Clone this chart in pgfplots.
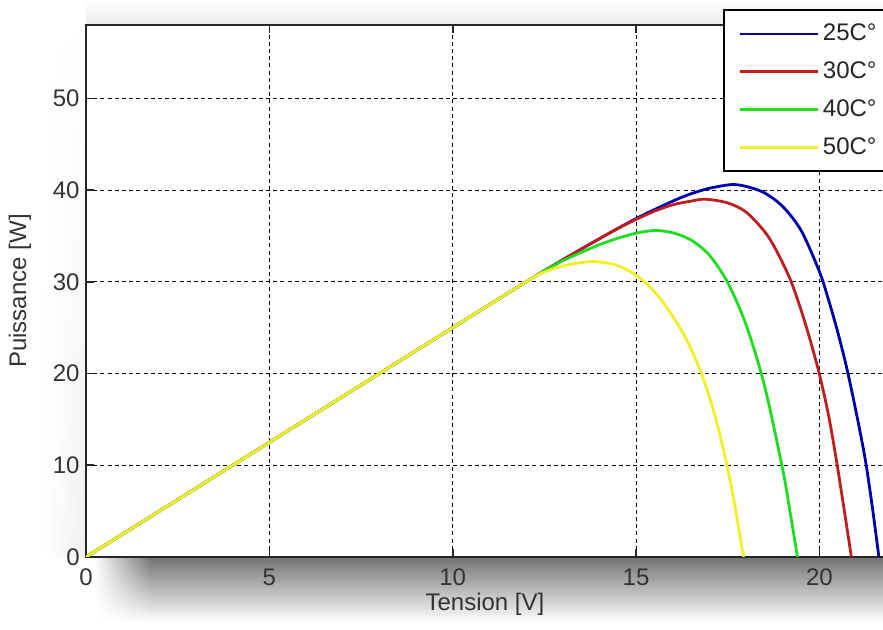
\documentclass[border=0pt]{standalone}
\usepackage{fontspec}
\setmainfont{Liberation Sans}
\usepackage{pgfplots}
\pgfplotsset{compat=1.18}
\usetikzlibrary{fadings}
\tikzfading[name=fadeL, left color=transparent!100, right color=transparent!0]
\tikzfading[name=fadeU, bottom color=transparent!0, top color=transparent!100]

\definecolor{cBlue}{RGB}{0,0,170}
\definecolor{cRed}{RGB}{190,30,30}
\definecolor{cGreen}{RGB}{30,220,30}
\definecolor{cYellow}{RGB}{240,240,40}

\begin{document}
\begin{tikzpicture}
\path[use as bounding box] (0pt,0pt) rectangle (441.5pt,315pt);
\clip (0pt,0pt) rectangle (441.5pt,315pt);
% shadows
\shade[top color=black!55, middle color=black!18, bottom color=white] (75pt,4pt) rectangle (441.5pt,36.5pt);
\shade[top color=black!55, middle color=black!18, bottom color=white, path fading=fadeL] (47pt,4pt) rectangle (75.1pt,36.5pt);
\shade[bottom color=black!8, top color=white] (43pt,302.5pt) rectangle (441.5pt,315pt);
\shade[right color=black!6, left color=white, path fading=fadeU] (22pt,36.5pt) rectangle (43pt,310pt);

\begin{axis}[
  at={(43pt,36.5pt)}, anchor=south west,
  scale only axis, width=403.4pt, height=266pt,
  xmin=0, xmax=22, ymin=0, ymax=58,
  xtick={0,5,10,15,20}, ytick={0,10,20,30,40,50},
  tick pos=both, tick align=inside, major tick length=4pt,
  grid=major,
  major grid style={black, line width=0.5pt, dash pattern=on 2pt off 1.6pt},
  axis line style={black!85, line width=0.8pt},
  every tick/.style={black!85, line width=0.8pt},
  tick label style={font=\fontsize{12}{14}\selectfont, text=black!80},
  /pgf/number format/assume math mode=true,
  xticklabel style={anchor=base, yshift=-14.5pt},
  yticklabel style={anchor=east, inner sep=0pt, xshift=-3pt},
  xlabel={Tension [V]}, ylabel={Puissance [W]},
  label style={font=\fontsize{12}{14}\selectfont, text=black!80},
  xlabel style={at={(axis description cs:0.4945,-0.088)}, anchor=center},
  ylabel style={at={(axis description cs:-0.0818,0.5)}, anchor=center},
  legend style={at={(axis cs:17.38,59.7)}, anchor=north west, draw=black, line width=0.8pt,
    fill=white, font=\fontsize{12}{14}\selectfont, text=black!85,
    inner xsep=7pt, inner ysep=5pt, row sep=5pt, nodes={inner sep=2pt}},
  legend cell align=left,
  legend image code/.code={\draw[#1, line width=1.4pt] (0pt,0pt) -- (39pt,0pt);},
]
\addplot[cBlue, line width=1.4pt, smooth, tension=0.5] coordinates {
(0,0) (4,10) (8,20) (10,25) (12,30) (13,32.4) (14,34.7) (15,36.9) (16,38.8) (16.5,39.6)
(17,40.2) (17.6,40.6) (18,40.4) (18.5,39.7) (19,38.2) (19.5,35.6) (20,31.1) (20.25,28.0)
(20.5,24.5) (20.75,20.5) (21,15.8) (21.25,10.6) (21.45,5.2) (21.62,0)
};
\addlegendentry{25C°}
\addplot[cRed, line width=1.4pt, smooth, tension=0.5] coordinates {
(0,0) (4,10) (8,20) (10,25) (12,30) (13,32.4) (14,34.7) (14.5,35.8) (15,36.8) (15.5,37.7)
(16,38.4) (16.5,38.8) (16.9,39.0) (17.5,38.6) (18,37.6) (18.5,35.5) (18.8,33.6) (19.2,30.3)
(19.5,26.9) (19.75,23.6) (20.0,19.9) (20.25,15.4) (20.46,10.6) (20.68,5.0) (20.87,0)
};
\addlegendentry{30C°}
\addplot[cGreen, line width=1.4pt, smooth, tension=0.5] coordinates {
(0,0) (4,10) (8,20) (10,25) (12,30) (12.5,31.2) (13,32.3) (13.5,33.2) (14,34.05) (14.5,34.75)
(15,35.3) (15.5,35.6) (16,35.35) (16.5,34.55) (17,32.9) (17.5,29.9) (18,25.3) (18.5,18.7)
(19,9.5) (19.2,4.9) (19.4,0)
};
\addlegendentry{40C°}
\addplot[cYellow, line width=1.4pt, smooth, tension=0.5] coordinates {
(0,0) (4,10) (8,20) (10,25) (12,30) (12.4,30.9) (12.8,31.5) (13.2,31.9) (13.6,32.15) (13.9,32.2)
(14.4,31.9) (14.8,31.22) (15.2,30.1) (15.6,28.46) (16,26.24) (16.4,23.5) (16.8,19.8) (17.2,14.7)
(17.6,7.6) (17.93,0)
};
\addlegendentry{50C°}
\end{axis}
\end{tikzpicture}
\end{document}
